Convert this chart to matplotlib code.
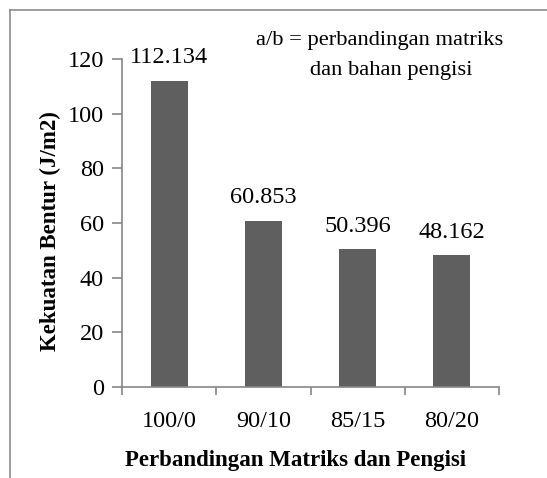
import matplotlib
matplotlib.use("Agg")
import matplotlib.pyplot as plt
from matplotlib.lines import Line2D

categories = ["100/0", "90/10", "85/15", "80/20"]
values = [112.134, 60.853, 50.396, 48.162]
value_labels = ["112.134", "60.853", "50.396", "48.162"]
yticks = [0, 20, 40, 60, 80, 100, 120]

plt.rcParams['font.family'] = ['Liberation Serif', 'DejaVu Serif']

W, H = 547, 478
fig = plt.figure(figsize=(W / 100, H / 100), dpi=100)
ax = fig.add_axes([122 / W, 1 - 387 / H, (499 - 122) / W, (387 - 59) / H])

x = list(range(len(categories)))
ax.bar(x, values, width=0.39, color="#5f5f5f", zorder=2)

ax.set_xlim(-0.5, len(categories) - 0.5)
ax.set_ylim(0, 120)
ax.set_yticks(yticks)
ax.set_yticklabels([str(t) for t in yticks], fontsize=17.5)
ax.set_xticks(x)
ax.set_xticklabels(categories, fontsize=17.5)
ax.set_xticks([i - 0.5 for i in range(len(categories) + 1)], minor=True)

gray = "#868686"
for s in ["top", "right"]:
    ax.spines[s].set_visible(False)
for s in ["left", "bottom"]:
    ax.spines[s].set_color(gray)
    ax.spines[s].set_linewidth(1.2)
ax.tick_params(axis="y", length=7, width=1.2, color=gray, pad=6)
ax.tick_params(axis="x", which="major", length=0, pad=17)
ax.tick_params(axis="x", which="minor", length=6, width=1.2, color=gray)

for xi, v, lab in zip(x, values, value_labels):
    ax.annotate(lab, (xi, v), xytext=(0, 9), textcoords="offset points",
                ha="center", va="bottom", fontsize=17.5)

ax.set_ylabel("Kekuatan Bentur (J/m2)", fontsize=16.5, fontweight="bold")
ax.yaxis.set_label_coords(-0.163, 0.476)
ax.set_xlabel("Perbandingan Matriks dan Pengisi", fontsize=16.5, fontweight="bold", labelpad=13)
ax.xaxis.label.set_x(0.46)

fig.text(503 / W, 1 - 45 / H, "a/b = perbandingan matriks", ha="right", va="baseline", fontsize=16.2)
fig.text(473 / W, 1 - 75 / H, "dan bahan pengisi", ha="right", va="baseline", fontsize=16.2)

# outer chart border (left and top visible)
fig.add_artist(Line2D([10 / W, 10 / W], [0, 1 - 10 / H], transform=fig.transFigure, color="#8c8c8c", lw=1.2))
fig.add_artist(Line2D([10 / W, 1], [1 - 10 / H, 1 - 10 / H], transform=fig.transFigure, color="#8c8c8c", lw=1.2))

fig.savefig("out.png", dpi=100)
